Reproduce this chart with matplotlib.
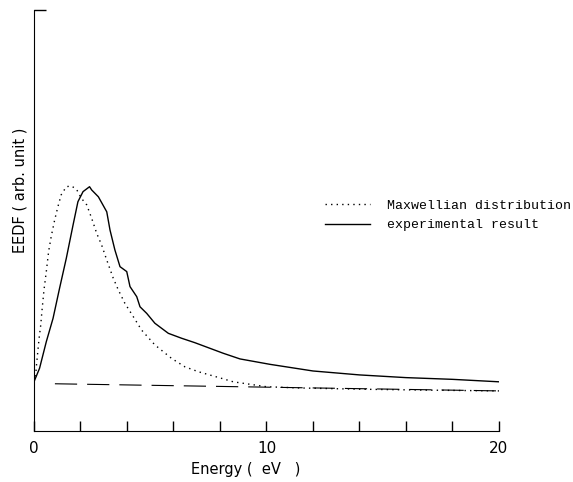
import matplotlib
matplotlib.use('Agg')
import matplotlib.pyplot as plt

# experimental EEDF (solid)
x_exp = [0.0, 0.24, 0.53, 0.82, 1.1, 1.39, 1.68, 1.89, 2.11, 2.39, 2.48, 2.77, 3.13,
         3.27, 3.48, 3.7, 3.99, 4.13, 4.42, 4.56, 4.85, 5.2, 5.78, 6.35, 6.92, 8.14, 8.86, 10.15,
         12.0, 14.0, 16.0, 18.0, 20.0]
y_exp = [0.2, 0.255, 0.363, 0.458, 0.58, 0.702, 0.837, 0.932, 0.973, 0.993, 0.98, 0.952, 0.891,
         0.817, 0.736, 0.668, 0.648, 0.587, 0.546, 0.505, 0.478, 0.438, 0.397, 0.377, 0.359, 0.316, 0.293, 0.271,
         0.244, 0.228, 0.217, 0.21, 0.2]

# Maxwellian distribution (dotted)
x_max = [0.0, 0.07, 0.1, 0.22, 0.29, 0.34, 0.43, 0.53, 0.63, 0.74, 0.89, 1.03, 1.17, 1.39,
         1.6, 1.82, 2.04, 2.27, 2.48, 2.7, 2.91, 3.13, 3.41, 3.63, 3.91, 4.27, 4.63, 5.2, 5.92,
         6.49, 7.07, 8.07, 8.57, 10.0, 11.4, 14.0, 17.0, 20.0]
y_max = [0.2, 0.22, 0.26, 0.377, 0.43, 0.485, 0.573, 0.648, 0.73, 0.79, 0.858, 0.912, 0.96, 0.993,
         0.996, 0.984, 0.946, 0.919, 0.865, 0.803, 0.756, 0.695, 0.621, 0.573, 0.519, 0.465, 0.41, 0.35, 0.295,
         0.261, 0.241, 0.214, 0.2, 0.18, 0.175, 0.17, 0.166, 0.163]

# background level (dashed)
x_base = [0.9, 20.0]
y_base = [0.192, 0.163]

fig = plt.figure(figsize=(5.73, 4.82), dpi=100)
ax = fig.add_axes([0.0593, 0.1058, 0.8115, 0.8932])
ax.set_xlim(0, 20)
ax.set_ylim(0, 1.75)

h_exp, = ax.plot(x_exp, y_exp, color='black', lw=1.0)
h_max, = ax.plot(x_max, y_max, color='black', lw=1.0, linestyle=(0, (1, 3)))
ax.plot(x_base, y_base, color='black', lw=0.8, linestyle=(0, (20, 9)))

ax.spines['top'].set_visible(False)
ax.spines['right'].set_visible(False)
ax.spines['left'].set_bounds(0, 1.71)
ax.hlines(1.71, 0, 0.5, color='black', lw=1.0, clip_on=False)

ax.set_xticks([0, 10, 20])
ax.set_xticklabels(['0', '10', '20'])
ax.set_xticks(range(0, 21, 2), minor=True)
ax.tick_params(axis='x', which='both', direction='in', length=7, width=1, pad=7,
               labelsize=11)
ax.set_yticks([])

ax.set_xlabel('Energy (  eV   )', fontsize=10.5)
ax.xaxis.set_label_coords(0.456, -0.072)
ax.set_ylabel('EEDF ( arb. unit )', fontsize=10.5)
ax.yaxis.set_label_coords(-0.015, 0.56)

ax.legend([h_max, h_exp], ['Maxwellian distribution', 'experimental result'],
          loc='upper left', bbox_to_anchor=(0.6, 0.565), frameon=False,
          prop={'family': 'Liberation Mono', 'size': 9.5},
          handlelength=3.4, handletextpad=1.3, labelspacing=0.55)

fig.savefig('out.png', dpi=100)
